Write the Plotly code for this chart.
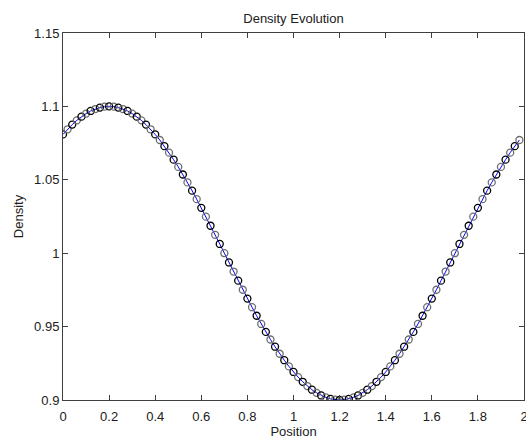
import plotly.graph_objects as go

position = [0.00, 0.02, 0.04, 0.06, 0.08, 0.10, 0.12, 0.14, 0.16, 0.18,
            0.20, 0.22, 0.24, 0.26, 0.28, 0.30, 0.32, 0.34, 0.36, 0.38,
            0.40, 0.42, 0.44, 0.46, 0.48, 0.50, 0.52, 0.54, 0.56, 0.58,
            0.60, 0.62, 0.64, 0.66, 0.68, 0.70, 0.72, 0.74, 0.76, 0.78,
            0.80, 0.82, 0.84, 0.86, 0.88, 0.90, 0.92, 0.94, 0.96, 0.98,
            1.00, 1.02, 1.04, 1.06, 1.08, 1.10, 1.12, 1.14, 1.16, 1.18,
            1.20, 1.22, 1.24, 1.26, 1.28, 1.30, 1.32, 1.34, 1.36, 1.38,
            1.40, 1.42, 1.44, 1.46, 1.48, 1.50, 1.52, 1.54, 1.56, 1.58,
            1.60, 1.62, 1.64, 1.66, 1.68, 1.70, 1.72, 1.74, 1.76, 1.78,
            1.80, 1.82, 1.84, 1.86, 1.88, 1.90, 1.92, 1.94, 1.96, 1.98]

density = [1.0809, 1.0844, 1.0876, 1.0905, 1.0930, 1.0951, 1.0969, 1.0982, 1.0992, 1.0998,
           1.1000, 1.0998, 1.0992, 1.0982, 1.0969, 1.0951, 1.0930, 1.0905, 1.0876, 1.0844,
           1.0809, 1.0771, 1.0729, 1.0685, 1.0637, 1.0588, 1.0536, 1.0482, 1.0426, 1.0368,
           1.0309, 1.0249, 1.0187, 1.0125, 1.0063, 1.0000, 0.9937, 0.9875, 0.9813, 0.9751,
           0.9691, 0.9632, 0.9574, 0.9518, 0.9464, 0.9412, 0.9363, 0.9315, 0.9271, 0.9229,
           0.9191, 0.9156, 0.9124, 0.9095, 0.9070, 0.9049, 0.9031, 0.9018, 0.9008, 0.9002,
           0.9000, 0.9002, 0.9008, 0.9018, 0.9031, 0.9049, 0.9070, 0.9095, 0.9124, 0.9156,
           0.9191, 0.9229, 0.9271, 0.9315, 0.9363, 0.9412, 0.9464, 0.9518, 0.9574, 0.9632,
           0.9691, 0.9751, 0.9813, 0.9875, 0.9937, 1.0000, 1.0063, 1.0125, 1.0187, 1.0249,
           1.0309, 1.0368, 1.0426, 1.0482, 1.0536, 1.0588, 1.0637, 1.0685, 1.0729, 1.0771]

x_tickvals = [0, 0.2, 0.4, 0.6, 0.8, 1.0, 1.2, 1.4, 1.6, 1.8, 2.0]
x_ticktext = ["0", "0.2", "0.4", "0.6", "0.8", "1", "1.2", "1.4", "1.6", "1.8", "2"]
y_tickvals = [0.9, 0.95, 1.0, 1.05, 1.1, 1.15]
y_ticktext = ["0.9", "0.95", "1", "1.05", "1.1", "1.15"]

marker_colors = ["#000000" if i % 2 == 0 else "#6e6e6e" for i in range(len(position))]

FONT = "Liberation Sans, Arial, sans-serif"
TXT = "#202020"

fig = go.Figure()
fig.add_trace(go.Scatter(
    x=position, y=density, mode="lines",
    line=dict(color="#0000ff", width=1),
    showlegend=False, hoverinfo="skip"))
fig.add_trace(go.Scatter(
    x=position, y=density, mode="markers",
    marker=dict(symbol="circle-open", size=7, color=marker_colors,
                line=dict(width=1.3, color=marker_colors)),
    showlegend=False))

axis_common = dict(
    showgrid=False, zeroline=False, showline=True, linecolor="#404040",
    linewidth=1, mirror="ticks", ticks="inside", ticklen=5, tickcolor="#404040",
    tickfont=dict(family=FONT, size=13, color=TXT),
    ticklabeloverflow="allow",
)

fig.update_layout(
    width=530, height=441,
    margin=dict(l=63, r=2, t=33, b=41),
    paper_bgcolor="white", plot_bgcolor="white",
    font=dict(family=FONT, size=13, color=TXT),
    title=dict(text="Density Evolution", x=0.5, xref="paper", xanchor="center",
               y=1 - 18 / 441, yref="container", yanchor="middle",
               font=dict(family=FONT, size=13, color=TXT)),
    xaxis=dict(range=[0, 2], tickvals=x_tickvals, ticktext=x_ticktext,
               ticklabelstandoff=4,
               title=dict(text="Position", standoff=4,
                          font=dict(family=FONT, size=13, color=TXT)),
               **axis_common),
    yaxis=dict(range=[0.9, 1.15], tickvals=y_tickvals, ticktext=y_ticktext,
               title=dict(text="Density", standoff=7,
                          font=dict(family=FONT, size=13, color=TXT)),
               **axis_common),
)

fig.write_html("out.html",
               config={"displayModeBar": False},
               post_script="document.body.style.margin='0';document.body.style.overflow='hidden';document.documentElement.style.overflow='hidden';")
